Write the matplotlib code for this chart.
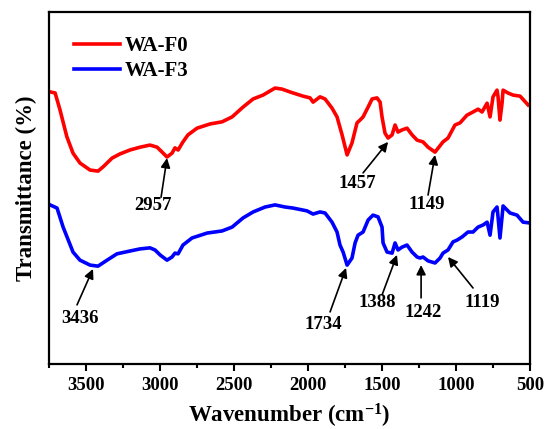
import matplotlib
matplotlib.use('Agg')
import matplotlib.pyplot as plt
from matplotlib.ticker import MultipleLocator

# font setup: bold serif everywhere
plt.rcParams['font.family'] = 'Liberation Serif'
plt.rcParams['font.weight'] = 'bold'
plt.rcParams['axes.labelweight'] = 'bold'
plt.rcParams['mathtext.fontset'] = 'custom'
plt.rcParams['mathtext.rm'] = 'Liberation Serif:bold'
plt.rcParams['mathtext.default'] = 'rm'

# WA-F0 spectrum (wavenumber, transmittance a.u.)
f0_wn = [3743, 3709, 3676, 3630, 3588, 3541, 3473, 3419, 3385, 3324, 3270, 3203,
         3135, 3068, 3020, 2986, 2953, 2919, 2899, 2878, 2845, 2811, 2750, 2662,
         2581, 2513, 2439, 2371, 2304, 2223, 2176, 2122, 2101, 2034, 1986, 1966,
         1919, 1885, 1838, 1804, 1770, 1736, 1703, 1669, 1649, 1628, 1594, 1567,
         1534, 1513, 1500, 1480, 1459, 1432, 1412, 1392, 1365, 1331, 1297, 1263,
         1223, 1189, 1142, 1088, 1054, 1007, 973, 926, 885, 851, 824, 790, 770,
         750, 723, 716, 703, 689, 682, 649, 615, 567, 513]
f0_t = [77.3, 77.0, 72.2, 64.6, 59.9, 57.1, 55.1, 54.8, 56.0, 58.5, 59.7, 60.8,
        61.6, 62.2, 61.6, 60.2, 58.8, 59.9, 61.4, 60.8, 63.1, 65.1, 67.0, 68.2,
        68.8, 70.2, 73.0, 75.3, 76.4, 78.4, 78.1, 77.3, 77.0, 76.1, 75.6, 74.4,
        75.9, 75.3, 72.7, 70.2, 65.1, 59.4, 62.8, 68.5, 69.3, 70.2, 73.0, 75.3,
        75.6, 74.4, 70.2, 65.6, 64.2, 65.1, 67.9, 65.9, 66.5, 67.0, 65.1, 63.6,
        63.1, 61.6, 60.2, 63.1, 64.2, 67.9, 68.5, 70.7, 71.6, 72.4, 71.6, 74.1, 70.2,
        75.9, 77.8, 75.9, 69.3, 74.1, 77.8, 77.0, 76.4, 76.1, 73.6]

# WA-F3 spectrum
f3_wn = [3743, 3696, 3655, 3588, 3541, 3473, 3419, 3358, 3291, 3203, 3135, 3068,
         3034, 3000, 2953, 2919, 2899, 2878, 2845, 2784, 2682, 2581, 2513, 2439,
         2371, 2290, 2223, 2155, 2101, 2007, 1966, 1919, 1885, 1838, 1804, 1784,
         1763, 1736, 1703, 1682, 1662, 1628, 1594, 1561, 1527, 1500, 1493, 1466,
         1432, 1412, 1392, 1365, 1331, 1297, 1263, 1243, 1223, 1189, 1142, 1108,
         1088, 1054, 1020, 993, 959, 919, 885, 851, 817, 790, 770, 750, 723, 716,
         703, 689, 682, 635, 588, 547, 507]
f3_t = [45.2, 44.3, 38.9, 31.8, 29.5, 28.1, 27.8, 29.5, 31.3, 32.1, 32.7, 33.0,
        32.4, 31.0, 29.5, 30.4, 31.5, 31.3, 33.8, 35.8, 37.2, 37.8, 38.9, 41.5,
        43.2, 44.6, 45.2, 44.6, 44.3, 43.5, 42.6, 43.2, 42.9, 40.3, 37.5, 33.8,
        31.8, 28.1, 30.1, 34.4, 36.6, 37.5, 40.9, 42.3, 41.8, 38.9, 34.4, 31.8,
        31.5, 34.4, 32.4, 33.2, 33.8, 31.8, 30.4, 30.1, 30.4, 29.3, 28.7, 30.1,
        31.5, 32.4, 34.7, 35.2, 36.1, 37.5, 37.5, 38.9, 39.5, 40.3, 36.6, 43.2, 44.6, 41.8,
        35.8, 41.8, 44.9, 42.9, 42.3, 40.3, 40.1]

# peak labels: text position, arrow tail, arrow head
peak_labels = ['2957', '1457', '1149', '3436', '1734', '1388', '1242', '1119']
label_pos = [(3047, 44.9), (1669, 51.4), (1196, 45.2), (3541, 12.8),
             (1899, 11.1), (1534, 17.6), (1223, 14.5), (824, 17.6)]
arrow_tail = [(2993, 47.4), (1628, 54.3), (1189, 48.0), (3561, 16.8),
              (1851, 14.8), (1500, 19.6), (1236, 18.8), (885, 21.6)]
arrow_head = [(2953, 58.5), (1459, 63.1), (1142, 59.4), (3453, 27.0),
              (1743, 27.3), (1399, 31.0), (1236, 28.1), (1054, 30.4)]

fig = plt.figure(figsize=(5.45, 4.29), dpi=100)
ax = fig.add_axes([0.09, 0.1515, 0.8825, 0.8205])

ax.plot(f0_wn, f0_t, color='#ff0000', lw=2.6, label='WA-F0')
ax.plot(f3_wn, f3_t, color='#0000ff', lw=2.6, label='WA-F3')

for lab, tp, tail, head in zip(peak_labels, label_pos, arrow_tail, arrow_head):
	ax.annotate('', xy=head, xytext=tail,
	            arrowprops=dict(arrowstyle='-|>', color='k', lw=1.2,
	                            mutation_scale=14, shrinkA=0, shrinkB=0))
	ax.text(tp[0], tp[1], lab, ha='center', va='center', fontsize=13.5)

ax.set_xlim(3750, 500)
ax.set_ylim(0, 100)
ax.xaxis.set_major_locator(MultipleLocator(500))
ax.xaxis.set_minor_locator(MultipleLocator(250))
ax.set_yticks([])
ax.tick_params(axis='x', which='major', direction='out', length=5, width=1.5, labelsize=13.5, pad=4)
ax.tick_params(axis='x', which='minor', direction='out', length=3, width=1.5)
for sp in ax.spines.values():
	sp.set_linewidth(1.6)

ax.set_xlabel('Wavenumber (cm$^{-1}$)', fontsize=16.5, labelpad=6)
ax.set_ylabel('Transmittance (%)', fontsize=16.5, labelpad=9)

ax.legend(loc='upper left', frameon=False, fontsize=15, handlelength=2.2,
          handletextpad=0.2, labelspacing=0.25, borderaxespad=0.0,
          bbox_to_anchor=(0.035, 0.955))

plt.savefig('out.png', dpi=100)
